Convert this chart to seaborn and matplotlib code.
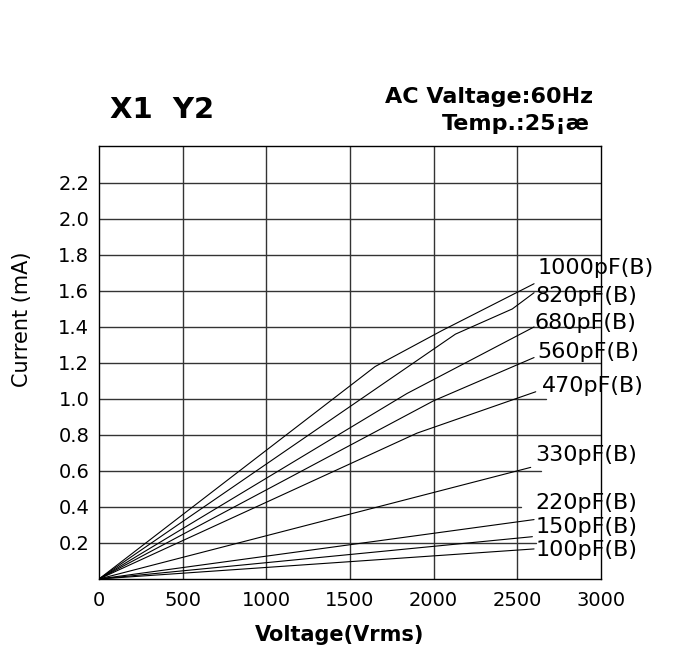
import numpy as np
import pandas as pd
import matplotlib
matplotlib.use("Agg")
import matplotlib.pyplot as plt
import seaborn as sns

# capacitance curves: voltage (Vrms) -> current (mA)
CURVE_NAMES = ["1000pF(B)", "820pF(B)", "680pF(B)", "560pF(B)", "470pF(B)",
               "330pF(B)", "220pF(B)", "150pF(B)", "100pF(B)"]
CURVE_V = [
    [0, 1650, 2050, 2600],
    [0, 2130, 2470, 2600],
    [0, 1840, 2600],
    [0, 2000, 2600],
    [0, 1900, 2610],
    [0, 2580],
    [0, 2600],
    [0, 2590],
    [0, 2600],
]
CURVE_I = [
    [0, 1.18, 1.38, 1.64],
    [0, 1.36, 1.50, 1.59],
    [0, 1.03, 1.40],
    [0, 0.99, 1.23],
    [0, 0.81, 1.04],
    [0, 0.62],
    [0, 0.33],
    [0, 0.235],
    [0, 0.167],
]
# where each curve's label sits (data coords, left edge / vertical centre)
LABEL_X = [2620, 2610, 2600, 2620, 2650, 2610, 2610, 2610, 2610]
LABEL_Y = [1.73, 1.57, 1.42, 1.26, 1.07, 0.69, 0.42, 0.29, 0.16]

X_TICKS = [0, 500, 1000, 1500, 2000, 2500, 3000]
Y_TICKS = [0.2, 0.4, 0.6, 0.8, 1.0, 1.2, 1.4, 1.6, 1.8, 2.0, 2.2]
# some horizontal grid lines stop short of the right border
GRID_XMAX = {0.2: 0.87, 0.4: 0.84, 0.6: 0.88, 1.0: 0.89}

rows = []
for name, vs, cs in zip(CURVE_NAMES, CURVE_V, CURVE_I):
    for k, (v, c) in enumerate(zip(vs, cs)):
        rows.append({"curve": name, "order": k, "voltage": v, "current": c})
df = pd.DataFrame(rows)

sns.set_theme(style="white")
plt.rcParams["font.family"] = ["DejaVu Sans"]
plt.rcParams["text.color"] = "black"
plt.rcParams["axes.labelcolor"] = "black"

fig = plt.figure(figsize=(6.73, 6.51), dpi=100)
ax = fig.add_axes([99 / 673, 72 / 651, 502 / 673, 433 / 651])

# grid first so the curves sit on top
for xv in X_TICKS[1:-1]:
    ax.axvline(xv, color="#333333", lw=1.0, zorder=1)
for yv in Y_TICKS:
    ax.axhline(yv, xmax=GRID_XMAX.get(yv, 1.0), color="#333333", lw=1.0, zorder=1)

for name in CURVE_NAMES:
    sub = df[df["curve"] == name].sort_values("order")
    sns.lineplot(data=sub, x="voltage", y="current", ax=ax, color="black",
                 lw=0.8, estimator=None, sort=False, zorder=3)

for name, lx, ly in zip(CURVE_NAMES, LABEL_X, LABEL_Y):
    ax.text(lx, ly, name, fontsize=16, color="black", ha="left", va="center",
            clip_on=False, zorder=4)

ax.set_xlim(0, 3000)
ax.set_ylim(0, 2.405)
ax.set_xticks(X_TICKS)
ax.set_yticks(Y_TICKS)
ax.set_yticklabels([f"{t:.1f}" for t in Y_TICKS])
ax.tick_params(axis="both", length=0, labelsize=14, colors="black")
ax.tick_params(axis="x", pad=9)
ax.tick_params(axis="y", pad=7)
for sp in ax.spines.values():
    sp.set_color("black")
    sp.set_linewidth(1.0)

ax.set_xlabel("Voltage(Vrms)", fontsize=15, fontweight="bold", va="center")
ax.xaxis.set_label_coords(0.48, -0.129)
ax.set_ylabel("Current (mA)", fontsize=15, va="center")
ax.yaxis.set_label_coords(-0.153, 0.60)

fig.text(110 / 673, 1 - 110 / 651, "X1  Y2", fontsize=21, fontweight="bold",
         ha="left", va="center")
fig.text(593 / 673, 1 - 97 / 651, "AC Valtage:60Hz", fontsize=16,
         fontweight="bold", ha="right", va="center")
fig.text(590 / 673, 1 - 124 / 651, "Temp.:25¡æ", fontsize=16,
         fontweight="bold", ha="right", va="center")

fig.savefig("out.png", dpi=100, facecolor="white")
